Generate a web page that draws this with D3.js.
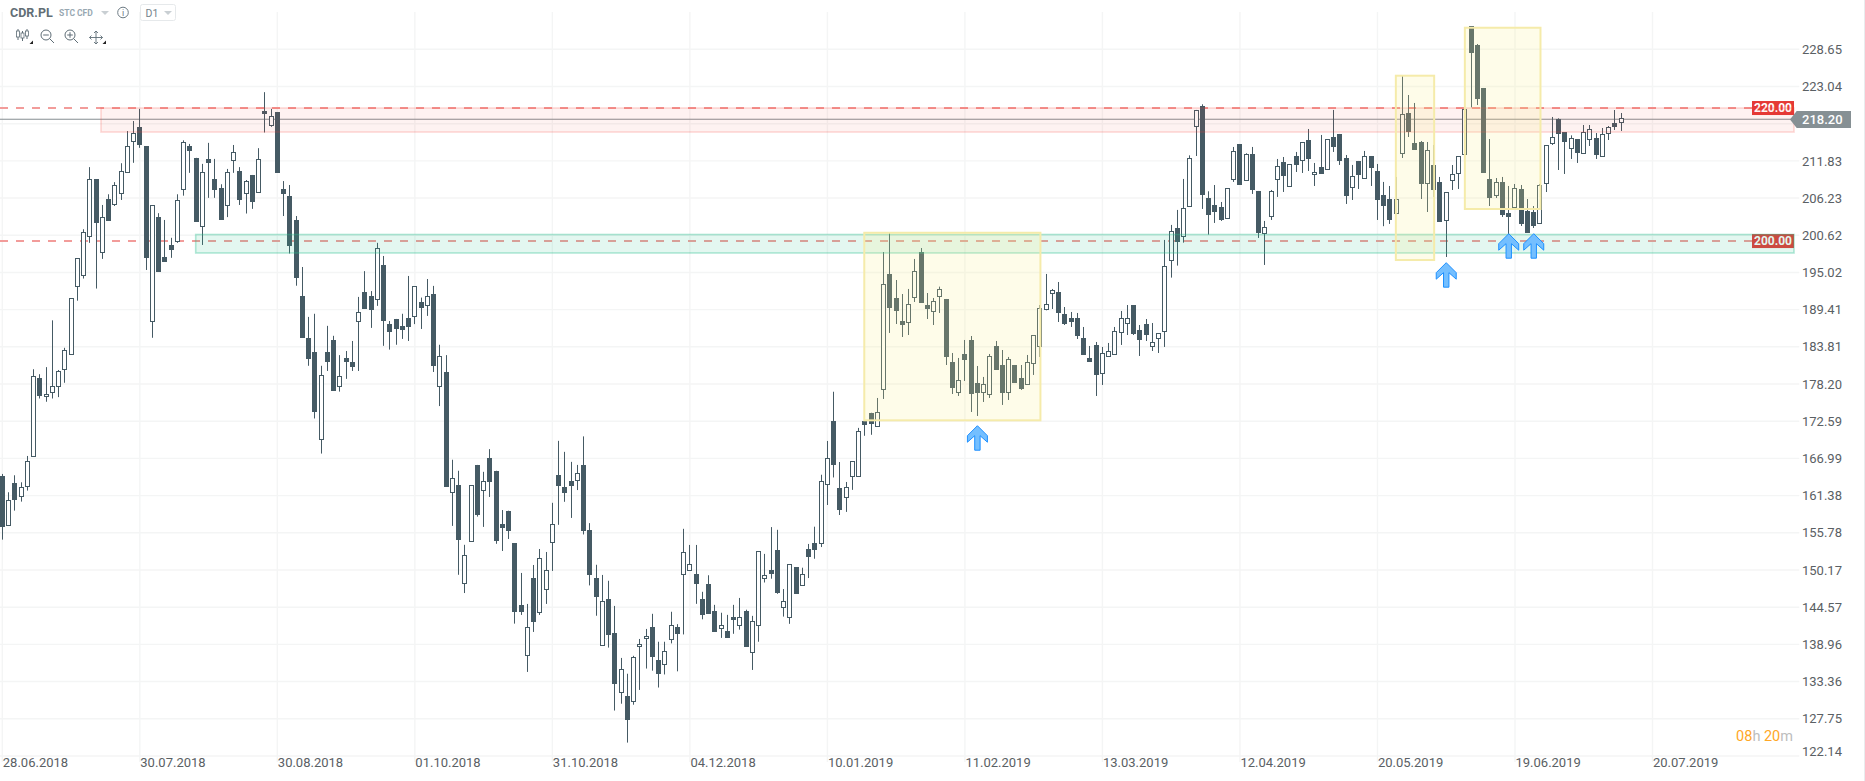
<!DOCTYPE html>
<html><head><meta charset="utf-8">
<script src="https://cdnjs.cloudflare.com/ajax/libs/d3/7.8.5/d3.min.js"></script>
<style>html,body{margin:0;padding:0;background:#fff;overflow:hidden}svg{display:block;font-family:Roboto,sans-serif}</style>
</head><body><div id="chart"></div>
<script>
const openValues=[164.35,156.86,163.24,161.23,162.74,167.26,179.08,176.45,176.93,177.85,
180.43,182.69,192.92,194.58,200.45,209.06,198.03,206.05,205.24,206.91,
210.09,214.87,216.92,214.07,187.59,203.36,197.33,199.16,199.75,207.50,
214.07,212.29,201.96,212.13,209.12,207.77,205.08,211.86,210.30,206.91,
209.71,207.07,219.34,217.14,219.18,207.56,206.53,202.93,191.41,185.17,
183.01,169.90,183.03,184.84,177.84,182.15,181.52,187.59,192.06,191.49,
190.97,196.15,187.23,188.01,186.97,188.16,188.37,190.55,190.09,191.80,
177.84,180.02,161.86,163.00,148.26,154.44,166.01,162.17,167.04,165.13,
157.13,159.11,154.20,144.91,137.27,148.97,143.75,147.22,154.44,164.50,
162.69,163.62,163.67,166.01,156.20,148.99,138.80,145.75,140.71,131.74,
131.17,130.39,138.64,139.88,141.60,136.62,135.94,139.73,141.54,149.54,
150.11,149.59,145.75,148.08,144.03,141.39,141.03,143.10,141.85,144.03,
137.76,141.85,149.07,150.16,153.22,144.66,143.00,150.62,147.82,153.37,
154.26,154.15,163.08,172.57,162.51,161.11,164.27,164.27,172.57,173.87,
171.80,177.36,194.79,191.17,187.70,187.45,191.22,198.10,190.11,189.11,
191.37,191.02,181.52,176.90,182.73,184.84,178.36,176.90,176.60,183.94,
181.07,176.90,181.07,179.11,178.11,181.32,183.84,189.41,191.87,192.07,
188.76,188.16,188.16,185.14,182.13,184.09,179.77,182.38,182.63,186.00,
187.35,190.11,186.35,187.25,183.89,185.04,186.10,196.80,201.72,200.47,
204.94,217.04,220.11,206.25,205.19,204.89,203.13,209.01,214.38,208.86,
212.88,207.30,200.92,203.43,209.06,211.67,208.00,212.57,211.92,214.93,
209.76,210.87,210.52,215.44,215.89,212.27,207.85,211.82,209.21,212.57,
210.31,206.70,206.10,203.88,212.92,219.05,214.53,214.68,208.40,211.21,
208.65,202.82,208.85,209.91,212.77,232.16,229.30,222.82,209.10,206.69,
208.65,203.98,204.88,207.60,204.28,204.13,202.37,208.40,214.43,218.09,
216.14,213.67,215.08,212.92,215.08,215.28,212.47,215.93,217.54,217.59];
const closeValues=[156.86,160.68,160.78,162.64,166.56,179.35,176.45,176.77,177.85,180.11,
183.28,191.14,197.17,201.04,209.06,202.55,203.30,202.82,208.15,210.25,
214.01,216.11,214.39,197.33,205.13,195.23,196.74,198.62,205.89,214.61,
213.53,202.77,210.09,211.70,207.61,203.09,210.09,213.10,206.10,208.74,
205.83,212.08,218.97,218.53,210.19,206.91,199.21,194.37,185.22,182.21,
174.19,179.50,181.73,177.32,179.40,181.68,180.95,189.00,189.67,189.51,
198.65,187.85,186.19,186.66,186.50,186.97,192.94,189.82,191.43,181.05,
182.40,162.84,163.98,154.90,152.41,162.95,158.64,163.57,163.62,154.69,
156.67,156.25,144.00,144.00,141.54,142.49,151.94,150.13,157.08,163.00,
161.96,163.00,164.76,156.25,149.61,146.34,145.49,140.46,133.24,135.21,
127.64,137.03,139.00,140.20,137.29,134.59,137.96,141.85,140.61,152.86,
151.04,148.29,143.46,143.78,141.03,141.85,140.14,142.74,143.05,138.74,
142.48,153.01,149.48,149.64,146.89,145.49,151.04,146.73,149.54,152.28,
153.43,163.55,167.02,166.09,159.29,162.66,166.56,171.07,172.11,172.42,
173.92,193.23,189.81,189.36,187.25,190.22,195.19,190.57,189.66,190.67,
192.48,182.43,177.76,178.76,181.98,176.85,177.01,178.16,182.38,180.47,
177.01,181.93,178.51,177.61,181.47,185.54,189.61,190.22,192.32,189.06,
187.40,187.70,185.59,182.73,181.68,179.72,182.83,183.13,186.15,188.11,
188.11,185.90,184.99,185.74,184.49,185.84,195.95,201.22,199.82,204.69,
212.22,219.51,206.85,203.88,204.29,203.08,207.70,213.28,208.36,212.83,
207.60,201.12,201.83,207.25,211.02,209.76,211.32,211.37,214.63,212.27,
210.11,209.91,215.09,214.08,211.97,206.70,209.51,209.86,212.52,210.92,
206.10,205.19,203.08,206.04,218.85,216.34,213.62,208.50,213.42,207.60,
202.77,207.09,209.81,212.52,219.60,228.24,221.31,210.16,206.39,208.60,
203.83,203.53,207.75,202.47,201.12,202.17,208.15,214.18,215.38,216.04,
214.83,215.23,213.17,216.14,216.59,212.87,215.84,216.89,217.09,218.25];
const highValues=[164.65,161.89,164.45,163.39,167.36,180.43,179.68,180.75,187.80,180.32,
183.66,191.14,197.17,201.53,210.89,209.06,205.19,206.80,208.63,211.48,
216.33,217.84,219.67,214.07,205.13,203.95,202.93,200.24,206.80,214.93,
214.39,212.29,211.38,214.55,212.13,208.31,210.62,214.23,210.89,208.95,
209.71,213.75,222.19,219.67,219.18,208.79,208.20,203.52,195.84,188.32,
188.79,180.95,186.97,185.47,182.56,183.18,184.69,191.33,195.22,192.21,
199.48,197.50,187.70,188.01,188.79,194.49,192.94,191.23,194.03,192.99,
184.12,182.56,166.79,165.13,153.97,162.95,166.01,164.97,168.39,165.13,
159.21,159.11,154.20,149.73,145.06,150.93,153.34,152.89,160.30,169.64,
167.98,166.47,166.01,170.31,157.24,150.96,149.43,148.55,144.76,136.92,
134.54,137.24,139.78,141.29,143.57,139.36,139.36,143.88,142.01,156.38,
153.95,153.95,146.89,149.38,144.92,143.73,143.41,144.92,145.96,144.19,
143.26,153.01,152.60,156.64,156.23,147.30,151.04,150.62,150.52,154.10,
156.70,164.53,169.62,177.04,166.45,163.44,166.56,171.59,174.60,173.87,
176.10,198.10,201.11,193.88,191.77,192.53,197.05,198.70,191.92,191.17,
192.88,191.02,182.88,182.13,184.84,185.44,180.92,179.27,182.73,184.69,
183.33,182.28,181.07,181.07,182.58,185.54,190.11,194.79,192.53,193.58,
189.81,189.06,188.91,186.80,183.94,184.54,183.79,184.39,186.80,189.21,
190.11,190.11,187.10,188.00,187.40,185.84,199.92,202.18,204.44,209.11,
212.67,219.51,220.36,207.25,208.20,205.64,207.70,213.93,214.38,212.98,
213.93,207.30,202.78,207.45,212.12,212.42,211.32,213.18,214.63,216.64,
211.52,215.74,215.09,219.51,215.89,212.72,211.22,211.82,213.33,212.57,
211.37,208.66,208.05,209.41,224.73,221.76,220.56,214.83,214.68,214.23,
209.41,207.09,211.21,212.52,219.60,232.16,229.45,222.82,215.13,209.25,
209.41,208.05,208.35,208.20,206.09,205.03,208.35,214.18,218.45,218.25,
216.14,215.68,215.08,217.24,217.24,216.03,216.79,217.09,219.50,219.05];
const lowValues=[154.75,156.86,159.12,160.48,162.14,167.26,176.02,175.53,176.02,176.23,
178.39,182.69,190.76,194.10,199.48,192.59,197.06,202.82,205.03,205.94,
210.09,211.54,213.80,195.39,185.17,195.23,196.74,197.22,199.48,206.59,
210.03,202.77,199.16,206.26,206.26,202.98,203.36,210.03,205.19,203.90,
204.60,207.07,216.11,216.97,210.19,203.52,197.87,193.02,185.22,180.95,
173.01,167.72,180.17,177.32,177.06,178.98,180.17,180.17,189.51,186.66,
189.98,183.96,183.39,184.12,185.00,184.69,187.23,186.50,188.47,180.02,
174.88,162.84,156.82,149.45,146.70,154.44,158.22,156.67,161.18,154.12,
153.04,154.85,142.09,143.40,134.81,140.84,143.40,145.06,150.03,156.98,
160.45,158.02,162.22,155.53,147.85,143.28,138.80,138.48,128.99,130.02,
124.16,129.87,132.10,135.32,135.00,132.46,134.43,139.11,134.90,140.46,
150.11,145.07,142.74,143.62,140.87,139.94,139.94,140.56,141.18,138.74,
135.11,139.36,148.29,148.86,146.58,143.15,142.06,146.73,147.82,148.96,
151.87,153.63,159.97,164.12,158.46,158.93,162.25,164.27,170.40,170.55,
171.80,175.95,185.90,187.25,185.29,185.59,190.57,190.57,188.00,187.10,
188.91,181.07,176.70,176.40,178.66,173.99,173.39,175.50,176.10,180.32,
175.05,175.80,178.51,177.31,178.11,179.57,182.28,189.31,189.51,187.55,
187.10,186.80,184.99,182.58,181.68,176.40,178.06,182.38,182.63,184.09,
185.59,185.59,182.43,184.69,183.18,182.88,183.79,194.24,196.05,199.51,
204.94,212.57,204.59,200.72,202.48,202.78,203.13,208.66,208.36,208.86,
206.85,200.22,196.15,202.93,206.40,207.15,208.00,210.16,210.01,210.31,
208.05,209.91,210.52,213.18,211.22,205.34,205.94,207.60,209.21,208.05,
202.93,201.99,202.33,203.88,212.27,215.43,213.62,206.09,204.13,206.39,
202.77,197.35,207.45,207.60,212.77,219.90,220.25,210.16,205.03,206.24,
203.38,200.66,204.73,202.02,201.12,201.72,202.37,207.14,214.23,210.46,
209.86,212.12,211.52,212.92,214.08,212.12,212.47,214.98,216.49,216.34];

const priceTicks=[228.65,223.04,217.44,211.83,206.23,200.62,195.02,189.41,183.81,178.20,172.59,166.99,161.38,155.78,150.17,144.57,138.96,133.36,127.75,122.14];
const hiddenPriceTicks=[217.44];
const dateTicks=[[0,"28.06.2018"],[22,"30.07.2018"],[44,"30.08.2018"],[66,"01.10.2018"],[88,"31.10.2018"],[110,"04.12.2018"],[132,"10.01.2019"],[154,"11.02.2019"],[176,"13.03.2019"],[198,"12.04.2019"],[220,"20.05.2019"],[242,"19.06.2019"],[264,"20.07.2019"]];
const levels=[{shown:"220.00",value:219.80},{shown:"200.00",value:199.75}];
const currentPrice=218.20;
const bands=[{from:15.79,top:219.80,bottom:216.18,kind:"red"},{from:30.94,top:200.74,bottom:197.95,kind:"green"}];
const boxes=[{from:137.9,to:166.08,top:201.0,bottom:172.73},{from:222.94,to:229.07,top:224.67,bottom:196.89},{from:233.98,to:246.08,top:231.9,bottom:204.58}];
const arrows=[{at:156,price:171.92},{at:231,price:196.49},{at:241,price:200.86},{at:245,price:200.86}];

const W=1865,H=781;
const svg=d3.select("#chart").append("svg").attr("width",W).attr("height",H);
const x=d3.scaleLinear().domain([0,264]).range([2.3,1652.5]);
const y=d3.scaleLinear().domain([122.14,228.65]).range([756,49.3]);
const plotRight=1794,gridRight=1799.3,plotTop=12;
const candleColor="#455a64";

svg.append("line").attr("x1",1864.5).attr("x2",1864.5).attr("y1",0).attr("y2",H).attr("stroke","#e9ecee").attr("stroke-width",1);

const grid=svg.append("g").attr("stroke","#f4f5f5").attr("stroke-width",1.4);
grid.selectAll(".h").data(priceTicks).join("line").attr("x1",0).attr("x2",gridRight).attr("y1",d=>y(d)).attr("y2",d=>y(d));
grid.selectAll(".v").data(dateTicks).join("line").attr("x1",d=>x(d[0])).attr("x2",d=>x(d[0])).attr("y1",plotTop).attr("y2",762);

const lv=svg.append("g");
lv.selectAll("line").data(levels).join("line").attr("x1",0).attr("x2",1752).attr("y1",d=>y(d.value)).attr("y2",d=>y(d.value))
 .attr("stroke","#f29c9a").attr("stroke-width",2).attr("stroke-dasharray","8 8");

svg.append("line").attr("x1",0).attr("x2",1792).attr("y1",y(currentPrice)+.6).attr("y2",y(currentPrice)+.6).attr("stroke","#868d92").attr("stroke-width",1);

const idx=d3.range(openValues.length);
const px=i=>Math.round(x(i)-.5)+.5;
const cg=svg.append("g");
cg.selectAll(".wick").data(idx).join("line").attr("class","wick")
 .attr("x1",px).attr("x2",px).attr("y1",i=>y(highValues[i])).attr("y2",i=>y(lowValues[i]))
 .attr("stroke",candleColor).attr("stroke-width",1);
cg.selectAll(".body").data(idx).join("rect").attr("class","body")
 .attr("x",i=>px(i)-2).attr("width",4)
 .attr("y",i=>Math.round(y(Math.max(openValues[i],closeValues[i])))+.5)
 .attr("height",i=>Math.max(1,Math.round(y(Math.min(openValues[i],closeValues[i]))-y(Math.max(openValues[i],closeValues[i])))))
 .attr("fill",i=>closeValues[i]>=openValues[i]?"#fff":candleColor)
 .attr("stroke",candleColor).attr("stroke-width",1);

// level tags sit under the translucent bands
const tags=svg.append("g");
levels.forEach(d=>{
 const cy=y(d.value);
 tags.append("rect").attr("x",1752).attr("width",42).attr("y",cy-7).attr("height",14).attr("fill","#e53935");
 tags.append("text").text(d.shown).attr("x",1773).attr("y",cy+4.2).attr("text-anchor","middle").attr("fill","#fff").style("font-size","12px").style("font-weight",700);
});

const bandStyle={red:["rgba(244,67,54,0.07)","rgba(244,67,54,0.2)"],green:["rgba(38,190,140,0.13)","rgba(38,190,140,0.35)"]};
svg.append("g").selectAll("rect").data(bands).join("rect")
 .attr("x",d=>x(d.from)).attr("width",d=>plotRight-x(d.from))
 .attr("y",d=>y(d.top)).attr("height",d=>y(d.bottom)-y(d.top))
 .attr("fill",d=>bandStyle[d.kind][0]).attr("stroke",d=>bandStyle[d.kind][1]).attr("stroke-width",1.6);

svg.append("g").selectAll("rect").data(boxes).join("rect")
 .attr("x",d=>x(d.from)).attr("width",d=>x(d.to)-x(d.from))
 .attr("y",d=>y(d.top)).attr("height",d=>y(d.bottom)-y(d.top))
 .attr("fill","rgba(248,240,137,0.19)").attr("stroke","#f5ebaa").attr("stroke-width",2);

const arrowShape=[[0,0],[10,10],[10,16.5],[2.7,10],[2.7,24.5],[-2.7,24.5],[-2.7,10],[-10,16.5],[-10,10]];
const arrowLine=d3.line();
svg.append("g").selectAll("path").data(arrows).join("path")
 .attr("transform",d=>`translate(${x(d.at)},${y(d.price)})`)
 .attr("d",arrowLine(arrowShape)+"Z")
 .attr("fill","#74bfff").attr("stroke","#1e90ff").attr("stroke-width",1);

const axisR=d3.axisRight(y).tickValues(priceTicks.filter(t=>!hiddenPriceTicks.includes(t))).tickFormat(d3.format(".2f")).tickSize(0).tickPadding(0);
const ga=svg.append("g").attr("transform","translate(1802,0)").call(axisR);
ga.select(".domain").remove();
ga.selectAll("text").attr("fill","#5a6064").style("font-size","13px").style("font-family","Roboto,sans-serif");
ga.selectAll(".tick").filter(d=>d===122.14).select("text").attr("dy","-0.01em");

const axisB=d3.axisBottom(x).tickValues(dateTicks.map(d=>d[0])).tickFormat(v=>dateTicks.find(d=>d[0]===v)[1]).tickSize(0).tickPadding(0);
const gb=svg.append("g").attr("transform","translate(0,758)").call(axisB);
gb.select(".domain").remove();
gb.selectAll("text").attr("text-anchor","start").attr("fill","#5a6064").style("font-size","13px").style("font-family","Roboto,sans-serif");

const cy=y(currentPrice)+.8;
svg.append("path").attr("d",d3.line()([[1790,cy],[1796.7,cy-8.5],[1851,cy-8.5],[1851,cy+8.5],[1796.7,cy+8.5]])+"Z").attr("fill","#869094");
svg.append("text").text(currentPrice.toFixed(2)).attr("x",1802).attr("y",cy+4.6).attr("fill","#fff").style("font-size","13px").style("font-weight",500);

const timer=svg.append("text").attr("x",1793).attr("y",741).attr("text-anchor","end").style("font-size","14.5px");
[["08","#ffa726"],["h ","#bdbdbd"],["20","#ffa726"],["m","#bdbdbd"]].forEach(p=>timer.append("tspan").text(p[0]).attr("fill",p[1]));

const tb=svg.append("g");
tb.append("rect").attr("x",0).attr("y",0).attr("width",185).attr("height",12).attr("fill","#fff");
tb.append("text").text("CDR.PL").attr("x",10).attr("y",17).attr("fill","#626e75").style("font-size","12.5px").style("font-weight",700);
tb.append("text").text("STC CFD").attr("x",59).attr("y",16).attr("fill","#98a8b2").style("font-size","8.5px").style("font-weight",700);
const tri=(cx,cyy,c)=>tb.append("path").attr("d",d3.line()([[cx-4,cyy-2],[cx+4,cyy-2],[cx,cyy+2]])+"Z").attr("fill",c);
tri(105,13,"#c9cfd3");
tb.append("circle").attr("cx",123).attr("cy",12.5).attr("r",5.3).attr("fill","none").attr("stroke","#6d7b84").attr("stroke-width",1);
tb.append("text").text("i").attr("x",123).attr("y",16).attr("text-anchor","middle").attr("fill","#6d7b84").style("font-size","9px");
tb.append("rect").attr("x",140.5).attr("y",4.5).attr("width",35).attr("height",16).attr("rx",2).attr("fill","#fff").attr("stroke","#e6e9eb");
tb.append("text").text("D1").attr("x",145.5).attr("y",17).attr("fill","#76838b").style("font-size","10.5px");
tri(168,13,"#c9cfd3");
const ic="#5e6d76";
[[18,29,40,31,37],[22.5,31,41,33,38],[27,29,39,31,36]].forEach(a=>{
 tb.append("line").attr("x1",a[0]).attr("x2",a[0]).attr("y1",a[1]).attr("y2",a[2]).attr("stroke",ic);
 tb.append("rect").attr("x",a[0]-1.5).attr("y",a[3]).attr("width",3).attr("height",a[4]-a[3]).attr("fill","#fff").attr("stroke",ic).attr("stroke-width",.8);
});
const blackTri=(px0,py0)=>tb.append("path").attr("d",d3.line()([[px0,py0],[px0-3.5,py0],[px0,py0-3.5]])+"Z").attr("fill","#222");
blackTri(33,44);blackTri(106,44);
const glass=(cx,cyy,plus)=>{
 tb.append("circle").attr("cx",cx).attr("cy",cyy).attr("r",5).attr("fill","none").attr("stroke",ic).attr("stroke-width",1);
 tb.append("line").attr("x1",cx+3.6).attr("y1",cyy+3.6).attr("x2",cx+8).attr("y2",cyy+8).attr("stroke",ic).attr("stroke-width",1);
 tb.append("line").attr("x1",cx-2.8).attr("x2",cx+2.8).attr("y1",cyy).attr("y2",cyy).attr("stroke",ic);
 if(plus)tb.append("line").attr("x1",cx).attr("x2",cx).attr("y1",cyy-2.8).attr("y2",cyy+2.8).attr("stroke",ic);
};
glass(46,35,false);glass(70,35,true);
tb.append("path").attr("d","M89.5 37.5h13M96 31v13M94 33l2-2 2 2M94 42l2 2 2-2M91.5 35.5l-2 2 2 2M100.5 35.5l2 2-2 2").attr("fill","none").attr("stroke",ic).attr("stroke-width",.9);
</script></body></html>
